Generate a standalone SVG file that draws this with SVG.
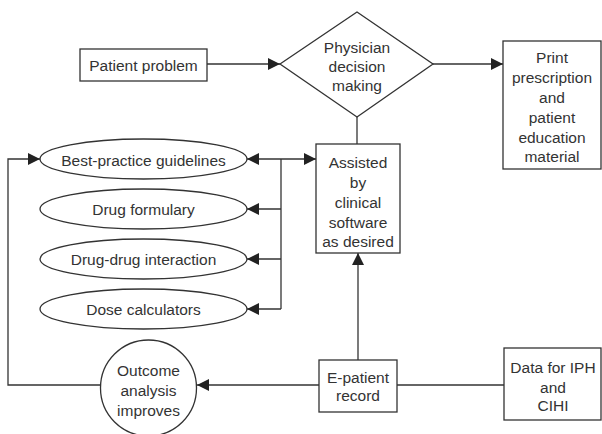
<svg xmlns="http://www.w3.org/2000/svg" width="602" height="434" viewBox="0 0 602 434">
<defs>
<marker id="arr" markerUnits="userSpaceOnUse" markerWidth="12" markerHeight="12" refX="12" refY="6" orient="auto">
<path d="M0,0 L12,6 L0,12 z" fill="#222"/>
</marker>
<style>
.shape{fill:#fff;stroke:#333;stroke-width:1.3}
.conn{fill:none;stroke:#333;stroke-width:1.3}
.arrow{marker-end:url(#arr)}
text{font-family:"Liberation Sans",Arial,sans-serif;font-size:15.5px;fill:#333;text-anchor:middle;dominant-baseline:central}
</style>
</defs>
<rect width="602" height="434" fill="#fff"/>
<g id="connectors">
<path class="conn arrow" d="M207,64 L280,64"/>
<path class="conn arrow" d="M433,64 L503,64"/>
<path class="conn" d="M357,117 L357,144"/>
<path class="conn" d="M281,159 L281,309"/>
<path class="conn arrow" d="M281,159 L247,159"/>
<path class="conn arrow" d="M281,209 L247,209"/>
<path class="conn arrow" d="M281,259 L247,259"/>
<path class="conn arrow" d="M281,309 L247,309"/>
<path class="conn arrow" d="M281,159 L316,159"/>
<path class="conn arrow" d="M358,360 L358,253"/>
<path class="conn arrow" d="M319,385 L197,385"/>
<path class="conn arrow" d="M100,385 L8,385 L8,159 L40,159"/>
<path class="conn" d="M397,385 L504,385"/>
</g>
<g id="patient-problem">
<rect class="shape" x="80" y="49" width="127" height="32"/>
<text x="143.5" y="65">Patient problem</text>
</g>
<g id="physician-decision">
<polygon class="shape" points="280,64 357,12 433,64 357,117"/>
<text x="357" y="47">Physician</text>
<text x="357" y="66">decision</text>
<text x="357" y="85">making</text>
</g>
<g id="print-prescription">
<rect class="shape" x="503" y="41" width="98" height="128"/>
<text x="552" y="57">Print</text>
<text x="552" y="77">prescription</text>
<text x="552" y="97">and</text>
<text x="552" y="117">patient</text>
<text x="552" y="137">education</text>
<text x="552" y="156">material</text>
</g>
<g id="assisted">
<rect class="shape" x="316" y="144" width="84" height="109"/>
<text x="358" y="162">Assisted</text>
<text x="358" y="182">by</text>
<text x="358" y="202">clinical</text>
<text x="358" y="222">software</text>
<text x="358" y="241">as desired</text>
</g>
<g id="best-practice">
<ellipse class="shape" cx="143.5" cy="159" rx="103.5" ry="20"/>
<text x="143.5" y="160">Best-practice guidelines</text>
</g>
<g id="drug-formulary">
<ellipse class="shape" cx="143.5" cy="209" rx="103.5" ry="20"/>
<text x="143.5" y="209">Drug formulary</text>
</g>
<g id="drug-drug">
<ellipse class="shape" cx="143.5" cy="259" rx="103.5" ry="20"/>
<text x="143.5" y="259">Drug-drug interaction</text>
</g>
<g id="dose-calculators">
<ellipse class="shape" cx="143.5" cy="309" rx="103.5" ry="20"/>
<text x="143.5" y="309">Dose calculators</text>
</g>
<g id="outcome">
<circle class="shape" cx="148.5" cy="388" r="48"/>
<text x="148.5" y="370">Outcome</text>
<text x="148.5" y="390">analysis</text>
<text x="148.5" y="410">improves</text>
</g>
<g id="e-patient">
<rect class="shape" x="319" y="360" width="78" height="52"/>
<text x="358" y="377">E-patient</text>
<text x="358" y="395">record</text>
</g>
<g id="data-iph">
<rect class="shape" x="504" y="348" width="97" height="72"/>
<text x="553" y="367">Data for IPH</text>
<text x="553" y="387">and</text>
<text x="553" y="405">CIHI</text>
</g>
</svg>
